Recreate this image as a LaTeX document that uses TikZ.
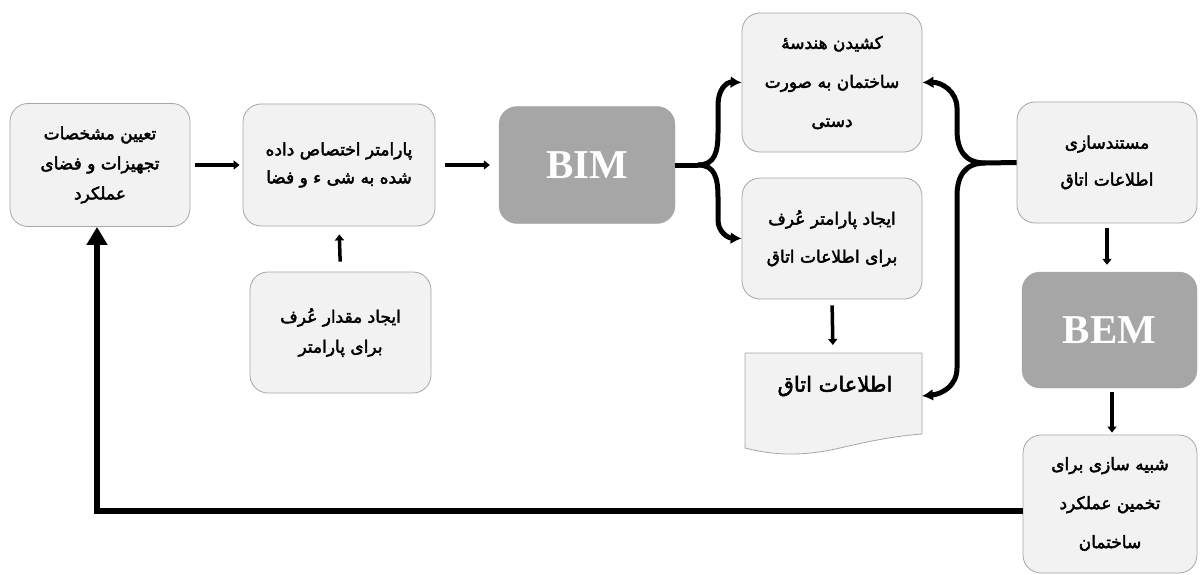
\documentclass[tikz,border=0pt]{standalone}
\usepackage{fontspec}
\TeXXeTstate=1
\newfontfamily\fa[Script=Arabic,FakeBold=2.5]{DejaVu Sans}
\newfontfamily\lat{Liberation Serif}
\usetikzlibrary{arrows.meta,calc}
\newcommand\RL[1]{\beginR #1\endR}
\definecolor{boxfill}{HTML}{F2F2F2}
\definecolor{boxline}{HTML}{A6A6A6}
\definecolor{darkfill}{HTML}{A6A6A6}
\tikzset{
  procbox/.style={draw=boxline, line width=0.8pt, fill=boxfill, rounded corners=18pt,
    align=center, inner sep=0pt, font=\fa\fontsize{17}{20}\selectfont},
  darkbox/.style={draw=darkfill, fill=darkfill, rounded corners=18pt, text=white,
    font=\lat\bfseries\fontsize{41}{44}\selectfont},
  flowarrow/.style={line width=3.5pt, -{Triangle[length=6pt,width=9pt]}},
  bracearrow/.style={line width=5pt, -{Latex[length=11pt,width=12pt]}},
  braceline/.style={line width=5pt},
  feedback/.style={line width=6pt, -{Triangle[length=18pt,width=20pt]}}
}
\begin{document}
\begin{tikzpicture}[x=1pt,y=-1pt]
\useasboundingbox (0,0) rectangle (1201,575);
% boxes
\node[procbox, minimum width=180pt, minimum height=123pt] (b1) at (100,165)
  {\RL{تعیین مشخصات}\\[10pt]\RL{تجهیزات و فضای}\\[10pt]\RL{عملکرد}};
\node[procbox, minimum width=192pt, minimum height=122pt] (b2) at (339,165)
  {\RL{پارامتر اختصاص داده}\\[8pt]\RL{شده به شی ء و فضا}};
\node[darkbox, minimum width=176pt, minimum height=117pt] (bim) at (587,165) {BIM};
\node[procbox, minimum width=180pt, minimum height=139pt] (b3) at (832,82.5)
  {\RL{کشیدن هندسهٔ}\\[19pt]\RL{ساختمان به صورت}\\[19pt]\RL{دستی}};
\node[procbox, minimum width=180pt, minimum height=121pt] (b4) at (832,238.5)
  {\RL{ایجاد پارامتر عُرف}\\[18pt]\RL{برای اطلاعات اتاق}};
\node[procbox, minimum width=180pt, minimum height=121pt] (b5) at (1107,162.5)
  {\RL{مستندسازی}\\[17pt]\RL{اطلاعات اتاق}};
\node[darkbox, minimum width=175pt, minimum height=116pt] (bem) at (1109.5,330) {BEM};
\node[procbox, minimum width=174pt, minimum height=138pt] (b6) at (1110,504)
  {\RL{شبیه سازی برای}\\[19pt]\RL{تخمین عملکرد}\\[19pt]\RL{ساختمان}};
\node[procbox, minimum width=181pt, minimum height=121pt] (b7) at (340.5,332.5)
  {\RL{ایجاد مقدار عُرف}\\[10pt]\RL{برای پارامتر}};
% document shape
\draw[draw=boxline, line width=0.8pt, fill=boxfill]
  (745,353) -- (922,353) -- (922,434)
  .. controls (895,436) and (870,441) .. (840,448)
  .. controls (810,455) and (780,457) .. (745,448) -- cycle;
\node[font=\fa\fontsize{21}{24}\selectfont, inner sep=0pt] (doc) at (835,386) {\RL{اطلاعات اتاق}};
\coordinate (docTop) at (833,353);
\coordinate (docR) at (922,396);
% straight arrows
\draw[flowarrow, shorten <=5pt, shorten >=3pt] (b1.east) -- (b2.west);
\draw[flowarrow, shorten <=10pt, shorten >=9pt] (b2.east) -- (bim.west);
\draw[flowarrow, shorten <=10pt, shorten >=8pt] (b7.north) -- (b2.south);
\draw[flowarrow, shorten <=5pt, shorten >=7pt] (b5.south) -- (b5.south |- bem.north);
\draw[flowarrow, shorten <=4pt, shorten >=2pt] (bem.south -| 1112,0) -- (b6.north -| 1112,0);
\draw[flowarrow, shorten <=6pt, shorten >=8pt] (b4.south) -- (docTop);
% BIM brace
\coordinate (bj) at (698,165);
\draw[braceline] (bim.east) -- (bj);
\draw[bracearrow] (bj) .. controls (715,165) and (718,152) .. (718,132) -- (718,105)
  .. controls (718,90) and (726,82) .. (b3.west);
\draw[bracearrow] (bj) .. controls (715,165) and (718,178) .. (718,198) -- (718,220)
  .. controls (718,232) and (728,238) .. (b4.west);
% right brace
\coordinate (rj) at (985,163);
\draw[braceline] (b5.west) -- (rj);
\draw[bracearrow] (rj) .. controls (965,163) and (957,150) .. (957,130) -- (957,108)
  .. controls (957,92) and (942,82) .. (b3.east);
\draw[bracearrow] (rj) .. controls (965,163) and (957,176) .. (957,196) -- (957,368)
  .. controls (957,386) and (942,394) .. (docR);
% feedback loop
\draw[feedback] ($(b6.west)+(0,7)$) -| ($(b1.south)+(-3,0)$);
\end{tikzpicture}
\end{document}
